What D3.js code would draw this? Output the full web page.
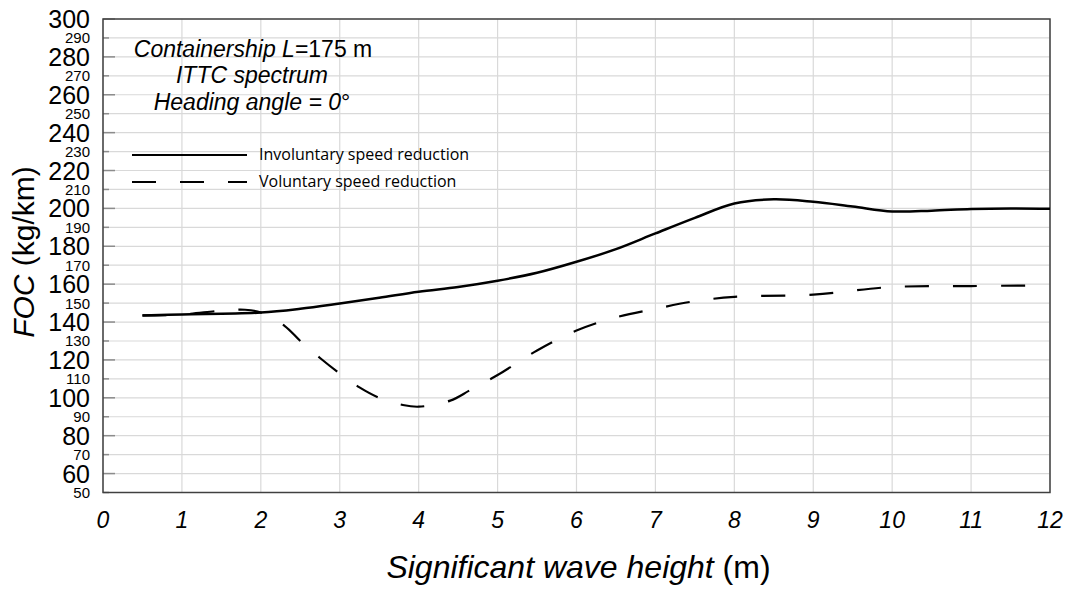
<!DOCTYPE html>
<html>
<head>
<meta charset="utf-8">
<script src="https://cdn.jsdelivr.net/npm/d3@7"></script>
<style>
  body { margin: 0; background: #fff; }
  svg { display: block; font-family: "Liberation Sans", Arial, sans-serif; }
</style>
</head>
<body>
<svg id="chart" width="1078" height="595"></svg>
<script>
// wave height (m) and fuel oil consumption (kg/km)
const involuntaryH = [0.5, 1, 2, 2.5, 3, 3.5, 4, 4.5, 5, 5.5, 6, 6.5, 7, 7.5, 8, 8.5, 9, 9.5, 10, 10.5, 11, 11.5, 12];
const involuntaryFOC = [143.5, 144, 145, 147, 149.8, 152.8, 156, 158.5, 161.8, 166, 171.8, 178.5, 186.8, 195, 202.6, 204.8, 203.5, 201, 198.4, 198.8, 199.7, 200, 199.8];

const voluntaryH = [0.5, 1, 1.5, 1.8, 2, 2.3, 2.5, 2.75, 3, 3.25, 3.5, 3.8, 4, 4.4, 4.65, 5, 5.5, 6, 6.5, 7, 7.5, 8, 9, 10, 11, 11.75];
const voluntaryFOC = [143.5, 144, 146, 146.5, 145, 138, 130, 121, 112.8, 105.5, 100, 96.2, 95.3, 98.5, 104, 112, 125, 135.5, 142.5, 147, 151, 153.3, 154.5, 158.5, 159, 159.3];

const xTicks = [0, 1, 2, 3, 4, 5, 6, 7, 8, 9, 10, 11, 12];
const yTicks = d3.range(50, 301, 10);

const svg = d3.select("#chart");
const plotLeft = 103, plotRight = 1050, plotTop = 19, plotBottom = 492.5;

const x = d3.scaleLinear().domain([0, 12]).range([plotLeft, plotRight]);
const y = d3.scaleLinear().domain([50, 300]).range([plotBottom, plotTop]);

// grid
svg.append("g")
  .selectAll("line")
  .data(yTicks)
  .enter()
  .append("line")
  .attr("x1", plotLeft).attr("x2", plotRight)
  .attr("y1", (d) => y(d)).attr("y2", (d) => y(d))
  .attr("stroke", "#d9d9d9").attr("stroke-width", 1.2);

svg.append("g")
  .selectAll("line")
  .data(xTicks)
  .enter()
  .append("line")
  .attr("x1", (d) => x(d)).attr("x2", (d) => x(d))
  .attr("y1", plotTop).attr("y2", plotBottom)
  .attr("stroke", "#d9d9d9").attr("stroke-width", 1.2);

// inner tick marks on the y axis
svg.append("g")
  .selectAll("line")
  .data(yTicks)
  .enter()
  .append("line")
  .attr("x1", plotLeft)
  .attr("x2", (d) => plotLeft + (d % 20 === 0 ? 12 : 6))
  .attr("y1", (d) => y(d)).attr("y2", (d) => y(d))
  .attr("stroke", "#8c8c8c").attr("stroke-width", 1.5);

// frame
svg.append("rect")
  .attr("x", plotLeft).attr("y", plotTop)
  .attr("width", plotRight - plotLeft).attr("height", plotBottom - plotTop)
  .attr("fill", "none").attr("stroke", "#404040").attr("stroke-width", 1.5);

// y tick labels: big on multiples of 20, small otherwise
svg.append("g")
  .selectAll("text")
  .data(yTicks)
  .enter()
  .append("text")
  .attr("x", 90)
  .attr("y", (d) => y(d))
  .attr("dy", "0.36em")
  .attr("text-anchor", "end")
  .attr("font-size", (d) => (d % 20 === 0 ? 25 : 15))
  .text((d) => d);

// x tick labels
svg.append("g")
  .selectAll("text")
  .data(xTicks)
  .enter()
  .append("text")
  .attr("x", (d) => x(d))
  .attr("y", 528)
  .attr("text-anchor", "middle")
  .attr("font-size", 23)
  .attr("font-style", "italic")
  .text((d) => d);

// axis titles
const xTitle = svg.append("text")
  .attr("x", (plotLeft + plotRight) / 2 + 2)
  .attr("y", 578)
  .attr("text-anchor", "middle")
  .attr("font-size", 32);
xTitle.append("tspan").attr("font-style", "italic").text("Significant wave height");
xTitle.append("tspan").text(" (m)");

const yTitle = svg.append("text")
  .attr("transform", "translate(34, 252) rotate(-90)")
  .attr("text-anchor", "middle")
  .attr("font-size", 30);
yTitle.append("tspan").attr("font-style", "italic").text("FOC");
yTitle.append("tspan").text(" (kg/km)");

// curves
const line = d3.line()
  .x((d) => x(d[0]))
  .y((d) => y(d[1]))
  .curve(d3.curveCatmullRom.alpha(0.5));

svg.append("path")
  .datum(involuntaryH.map((h, i) => [h, involuntaryFOC[i]]))
  .attr("d", line)
  .attr("fill", "none")
  .attr("stroke", "#000")
  .attr("stroke-width", 2.5);

svg.append("path")
  .datum(voluntaryH.map((h, i) => [h, voluntaryFOC[i]]))
  .attr("d", line)
  .attr("fill", "none")
  .attr("stroke", "#000")
  .attr("stroke-width", 2.2)
  .attr("stroke-dasharray", "24,24");

// annotation
const note = svg.append("g").attr("font-size", 23).attr("text-anchor", "middle");
const n1 = note.append("text").attr("x", 253).attr("y", 57);
n1.append("tspan").attr("font-style", "italic").text("Containership L");
n1.append("tspan").text("=175 m");
note.append("text").attr("x", 252).attr("y", 83).attr("font-style", "italic").text("ITTC spectrum");
const n3 = note.append("text").attr("x", 252).attr("y", 110);
n3.append("tspan").attr("font-style", "italic").text("Heading angle = 0");
n3.append("tspan").text("°");

// legend
const legendItems = ["Involuntary speed reduction", "Voluntary speed reduction"];
const legendDash = [null, "24,24"];
const legend = svg.append("g");
legendItems.forEach((name, i) => {
  const ly = 155 + i * 27;
  legend.append("line")
    .attr("x1", 132).attr("x2", 247)
    .attr("y1", ly).attr("y2", ly)
    .attr("stroke", "#000").attr("stroke-width", 2.2)
    .attr("stroke-dasharray", legendDash[i]);
  legend.append("text")
    .attr("x", 259).attr("y", ly + 4.5)
    .attr("font-family", "'Open Sans', sans-serif")
    .attr("font-size", 16)
    .text(name);
});
</script>
</body>
</html>
